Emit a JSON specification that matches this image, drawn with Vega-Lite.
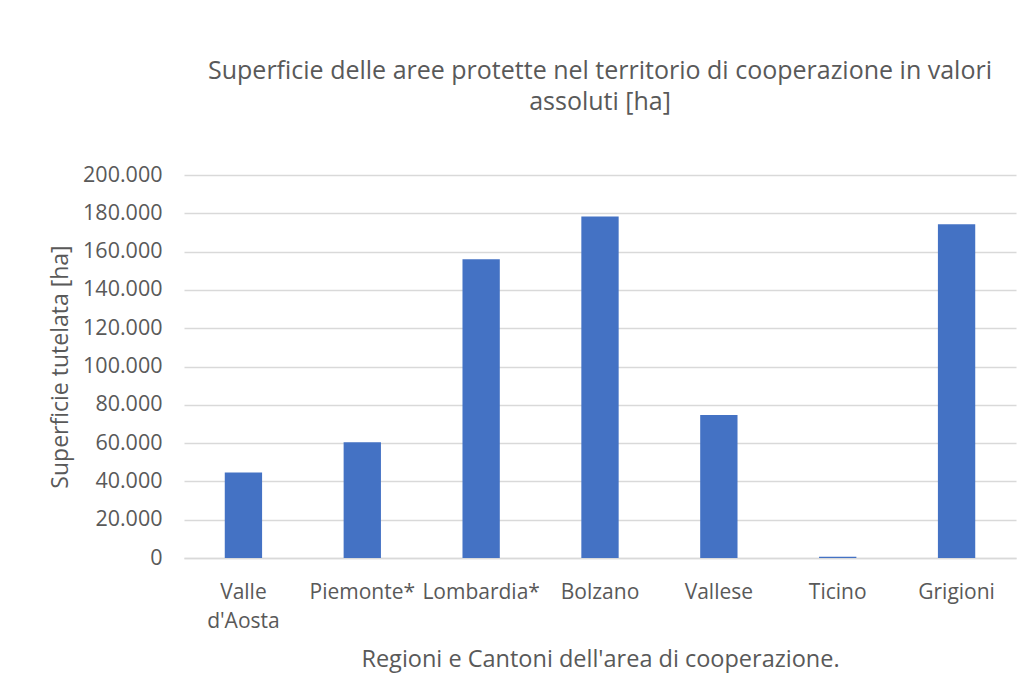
{
  "$schema": "https://vega.github.io/schema/vega-lite/v6.json",
  "width": 832,
  "height": 383,
  "autosize": {"type": "none"},
  "padding": {"left": 184, "top": 175, "right": 14, "bottom": 140},
  "background": "white",
  "config": {
    "font": "Open Sans",
    "view": {"stroke": null}
  },
  "title": {
    "text": ["Superficie delle aree protette nel territorio di cooperazione in valori", "assoluti [ha]"],
    "fontSize": 25,
    "fontWeight": "normal",
    "color": "#595959",
    "lineHeight": 31,
    "anchor": "middle",
    "offset": 49
  },
  "data": {
    "values": [
      {"regione": "Valle d'Aosta", "superficie": 44600},
      {"regione": "Piemonte*", "superficie": 60400},
      {"regione": "Lombardia*", "superficie": 156000},
      {"regione": "Bolzano", "superficie": 178300},
      {"regione": "Vallese", "superficie": 74700},
      {"regione": "Ticino", "superficie": 600},
      {"regione": "Grigioni", "superficie": 174300}
    ]
  },
  "mark": {"type": "bar", "color": "#4472C4"},
  "encoding": {
    "x": {
      "field": "regione",
      "type": "nominal",
      "sort": null,
      "scale": {"paddingInner": 0.686, "paddingOuter": 0.343},
      "axis": {
        "title": "Regioni e Cantoni dell'area di cooperazione.",
        "titleFontSize": 23.5,
        "titleFontWeight": "normal",
        "titleColor": "#595959",
        "titlePadding": 16,
        "labelAngle": 0,
        "labelFontSize": 21,
        "labelColor": "#595959",
        "labelPadding": 23,
        "labelLineHeight": 29,
        "labelOverlap": false,
        "labelExpr": "datum.label == \"Valle d'Aosta\" ? ['Valle', \"d'Aosta\"] : datum.label",
        "ticks": false,
        "domainColor": "#d9d9d9",
        "domainWidth": 1.3
      }
    },
    "y": {
      "field": "superficie",
      "type": "quantitative",
      "scale": {"domain": [0, 200000], "nice": false},
      "axis": {
        "title": "Superficie tutelata [ha]",
        "titleFontSize": 23,
        "titleFontWeight": "normal",
        "titleColor": "#595959",
        "titlePadding": 10,
        "values": [0, 20000, 40000, 60000, 80000, 100000, 120000, 140000, 160000, 180000, 200000],
        "labelExpr": "replace(format(datum.value, ','), /,/g, '.')",
        "labelFontSize": 21.5,
        "labelColor": "#595959",
        "labelPadding": 22,
        "labelOverlap": false,
        "ticks": false,
        "domain": false,
        "gridColor": "#d9d9d9",
        "gridWidth": 1.3
      }
    }
  }
}
